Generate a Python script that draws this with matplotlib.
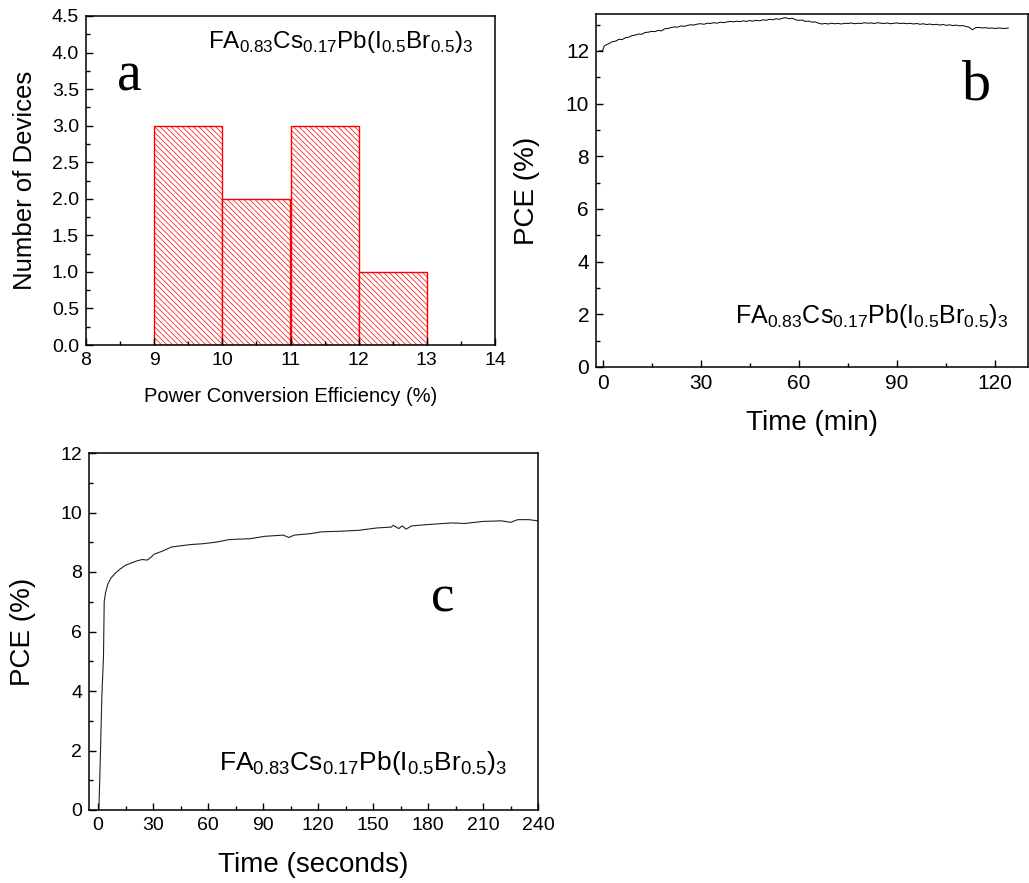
import matplotlib
matplotlib.use('Agg')
import matplotlib.pyplot as plt
from matplotlib.ticker import MultipleLocator

plt.rcParams['font.family'] = ['Liberation Sans', 'DejaVu Sans']
plt.rcParams['mathtext.fontset'] = 'custom'
plt.rcParams['mathtext.rm'] = 'Liberation Sans'
plt.rcParams['hatch.linewidth'] = 0.5
plt.rcParams['hatch.color'] = '#ff2a2a'

# (a) histogram of device efficiencies
bin_left = [9, 10, 11, 12]
device_counts = [3, 2, 3, 1]

# (b) PCE vs time (min), one reading per minute
time_b = [-1, 0, 0.5] + list(range(1, 125))
pce_b = [12.00, 12.00, 12.18,
         12.22, 12.28, 12.35, 12.37, 12.44, 12.43, 12.50, 12.52, 12.58, 12.60,
         12.64, 12.63, 12.70, 12.71, 12.74, 12.73, 12.78, 12.76, 12.84, 12.85,
         12.89, 12.91, 12.90, 12.95, 12.93, 12.97, 12.99, 12.98, 13.02, 13.03,
         13.01, 13.05, 13.04, 13.07, 13.05, 13.09, 13.07, 13.10, 13.12, 13.10,
         13.13, 13.11, 13.14, 13.12, 13.15, 13.13, 13.16, 13.14, 13.18, 13.16,
         13.20, 13.18, 13.22, 13.20, 13.24, 13.26, 13.22, 13.24, 13.18, 13.16,
         13.17, 13.12, 13.13, 13.09, 13.10, 13.05, 13.02, 13.04, 13.02, 13.05,
         13.03, 13.04, 13.02, 13.05, 13.04, 13.06, 13.03, 13.05, 13.04, 13.07,
         13.05, 13.06, 13.04, 13.07, 13.05, 13.04, 13.06, 13.03, 13.05, 13.06,
         13.04, 13.05, 13.03, 13.05, 13.02, 13.04, 13.01, 13.03, 13.00, 13.02,
         12.99, 13.01, 12.98, 13.00, 12.97, 12.99, 12.96, 12.98, 12.95, 12.96,
         12.93, 12.90, 12.80, 12.88, 12.89, 12.87, 12.88, 12.86, 12.87, 12.85,
         12.87, 12.86, 12.85, 12.87]

# (c) PCE vs time (seconds)
time_c = [0.4, 1.2, 2.0, 2.9, 3.3, 4.0, 5.3, 7.0, 9.2, 12, 15, 18, 20.9, 24, 26.7, 28.5,
          30.6, 35, 40, 45, 50, 57, 64, 71.6, 83, 91, 101, 104, 107, 116, 122, 132, 142,
          152, 160, 161, 164, 166, 168, 171, 181, 193, 200, 204, 210, 220, 225, 229, 235, 240]
pce_c = [0.0, 1.8, 3.8, 5.15, 7.0, 7.3, 7.6, 7.8, 7.95, 8.1, 8.23, 8.3, 8.37, 8.42, 8.4, 8.48,
         8.6, 8.7, 8.84, 8.88, 8.92, 8.95, 9.0, 9.09, 9.12, 9.2, 9.24, 9.16, 9.24, 9.29,
         9.35, 9.37, 9.4, 9.48, 9.51, 9.57, 9.46, 9.55, 9.44, 9.55, 9.6, 9.65, 9.63, 9.66,
         9.7, 9.72, 9.67, 9.76, 9.76, 9.72]

formula = r'FA$_{0.83}$Cs$_{0.17}$Pb(I$_{0.5}$Br$_{0.5}$)$_3$'
W, H = 1029, 883

fig = plt.figure(figsize=(W / 100, H / 100), dpi=100)


def box(l, t, r, b):
    return [l / W, 1 - b / H, (r - l) / W, (b - t) / H]


def style(ax, tick_size):
    for s in ax.spines.values():
        s.set_linewidth(1.1)
    ax.tick_params(which='both', direction='in', labelsize=tick_size, width=1.0)
    ax.tick_params(which='major', length=5, pad=5)
    ax.tick_params(which='minor', length=3)


# ---- panel a
ax1 = fig.add_axes(box(86, 16, 495, 345))
ax1.bar(bin_left, device_counts, width=1, align='edge', facecolor='white',
        edgecolor='red', linewidth=1.0, hatch='\\' * 6)
ax1.set_xlim(8, 14)
ax1.set_ylim(0, 4.5)
ax1.xaxis.set_major_locator(MultipleLocator(1))
ax1.xaxis.set_minor_locator(MultipleLocator(0.5))
ax1.yaxis.set_major_locator(MultipleLocator(0.5))
ax1.yaxis.set_minor_locator(MultipleLocator(0.25))
style(ax1, 14)
ax1.set_xlabel('Power Conversion Efficiency (%)', fontsize=14.5)
ax1.set_ylabel('Number of Devices', fontsize=18.5)
ax1.xaxis.label.set_va('center')
ax1.yaxis.label.set_va('center')
ax1.xaxis.set_label_coords(0.5, -0.158)
ax1.yaxis.set_label_coords(-0.15, 0.5)
ax1.text(0.298, 0.903, formula, transform=ax1.transAxes, fontsize=17.5, va='baseline')
ax1.text(0.105, 0.775, 'a', transform=ax1.transAxes, fontsize=40,
         family='Liberation Serif', ha='center', va='baseline')

# ---- panel b
ax2 = fig.add_axes(box(596, 14, 1028, 367))
ax2.plot(time_b, pce_b, color='black', linewidth=0.7)
ax2.set_xlim(-2, 130)
ax2.set_ylim(0, 13.4)
ax2.xaxis.set_major_locator(MultipleLocator(30))
ax2.xaxis.set_minor_locator(MultipleLocator(15))
ax2.yaxis.set_major_locator(MultipleLocator(2))
ax2.yaxis.set_minor_locator(MultipleLocator(1))
style(ax2, 15)
ax2.set_xlabel('Time (min)', fontsize=20)
ax2.set_ylabel('PCE (%)', fontsize=20)
ax2.xaxis.label.set_va('center')
ax2.yaxis.label.set_va('center')
ax2.xaxis.set_label_coords(0.5, -0.159)
ax2.yaxis.set_label_coords(-0.16, 0.5)
ax2.text(0.322, 0.125, formula, transform=ax2.transAxes, fontsize=18, va='baseline')
ax2.text(0.882, 0.759, 'b', transform=ax2.transAxes, fontsize=42,
         family='Liberation Serif', ha='center', va='baseline')

# ---- panel c
ax3 = fig.add_axes(box(89, 453, 538, 810))
ax3.plot(time_c, pce_c, color='#222222', linewidth=0.8)
ax3.set_xlim(-5, 240)
ax3.set_ylim(0, 12)
ax3.xaxis.set_major_locator(MultipleLocator(30))
ax3.xaxis.set_minor_locator(MultipleLocator(15))
ax3.yaxis.set_major_locator(MultipleLocator(2))
ax3.yaxis.set_minor_locator(MultipleLocator(1))
style(ax3, 14)
ax3.set_xlabel('Time (seconds)', fontsize=20)
ax3.set_ylabel('PCE (%)', fontsize=20)
ax3.xaxis.label.set_va('center')
ax3.yaxis.label.set_va('center')
ax3.xaxis.set_label_coords(0.5, -0.154)
ax3.yaxis.set_label_coords(-0.147, 0.5)
ax3.text(0.29, 0.112, formula, transform=ax3.transAxes, fontsize=19, va='baseline')
ax3.text(0.788, 0.555, 'c', transform=ax3.transAxes, fontsize=38,
         family='Liberation Serif', ha='center', va='baseline')

fig.savefig('out.png', dpi=100)
